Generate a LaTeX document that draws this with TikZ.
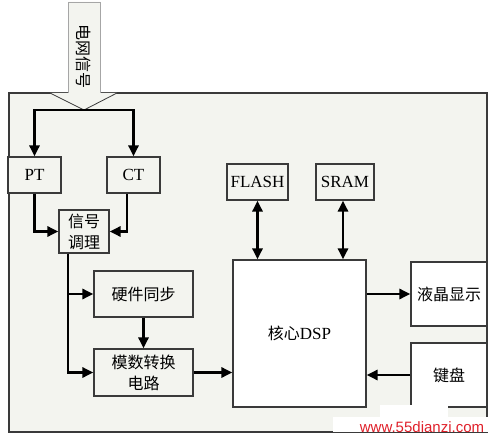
\documentclass[tikz,border=0pt]{standalone}
\usepackage{fontspec}
\setmainfont{Liberation Serif}
\newfontfamily\cjk{Noto Sans CJK SC}
\newfontfamily\wmfont{Liberation Sans}
\usetikzlibrary{arrows.meta}
\definecolor{bgc}{HTML}{F3F4EF}
\definecolor{edge}{HTML}{3A3A3A}
\definecolor{wmred}{HTML}{E0202A}
\begin{document}
\begin{tikzpicture}[x=1pt,y=-1pt,
  box/.style={draw=edge,line width=1.2pt,fill=bgc,inner sep=0pt,font=\fontsize{17}{20}\selectfont},
  cbox/.style={box,font=\cjk\fontsize{16}{22}\selectfont,align=center},
  wbox/.style={box,fill=white},
  conn/.style={line width=2.8pt,-{Triangle[length=11pt,width=10pt]}},
  dconn/.style={line width=2.8pt,{Triangle[length=11pt,width=10pt]}-{Triangle[length=11pt,width=10pt]}}]
\useasboundingbox (0,0) rectangle (490,441);
\fill[white] (0,0) rectangle (490,441);
% frame
\fill[bgc] (9,93) rectangle (487,432);
\draw[edge,line width=1.2pt] (68,93) -- (9,93) -- (9,432) -- (487,432) -- (487,93) -- (100,93);
% big input arrow
\fill[bgc] (68,2) -- (100,2) -- (100,93) -- (117,93) -- (84,110) -- (50,93) -- (68,93) -- cycle;
\draw[gray!70,line width=0.8pt] (68,93) -- (68,2) -- (100,2) -- (100,93);
\draw[edge,line width=0.8pt] (50,93) -- (84,110) -- (117,93);
\coordinate (tip) at (84,110);
\node[rotate=-90,font=\cjk\fontsize{16}{18}\selectfont,inner sep=0pt] (grid) at (84,57) {电网信号};
% boxes
\node[box,minimum width=53pt,minimum height=36pt] (PT) at (34.5,175) {PT};
\node[box,minimum width=53pt,minimum height=36pt] (CT) at (133.5,175) {CT};
\node[cbox,minimum width=50pt,minimum height=43pt,font=\cjk\fontsize{16}{21}\selectfont] (tiao) at (84,231.5) {信号\\调理};
\node[cbox,minimum width=99pt,minimum height=46pt] (hw) at (143.5,294) {硬件同步};
\node[cbox,minimum width=99pt,minimum height=47pt,font=\cjk\fontsize{16}{21}\selectfont] (adc) at (143.5,372.5) {模数转换\\电路};
\node[wbox,minimum width=133pt,minimum height=147pt] (dsp) at (299.5,333.5) {{\cjk\fontsize{16}{20}\selectfont 核心}DSP};
\node[box,minimum width=61pt,minimum height=36pt] (flash) at (257.5,182) {FLASH};
\node[box,minimum width=58pt,minimum height=36pt] (sram) at (345,182) {SRAM};
\node[cbox,fill=white,minimum width=76pt,minimum height=64pt] (lcd) at (449,294) {液晶显示};
\node[cbox,fill=white,minimum width=76pt,minimum height=64pt] (key) at (449,375) {键盘};
% connectors
\draw[conn] (tip) -| (PT.north);
\draw[conn] (tip) -| (CT.north);
\draw[conn] (PT.south) |- (tiao.west);
\draw[conn] ([xshift=-6.5pt]CT.south) |- (tiao.east);
\coordinate (tb) at ([xshift=-16pt]tiao.south);
\draw[conn] (tb) |- (hw.west);
\draw[conn] (tb) |- (adc.west);
\draw[conn] (hw.south) -- (adc.north);
\draw[conn] (adc.east) -- (adc.east -| dsp.west);
\draw[dconn] (flash.south) -- (flash.south |- dsp.north);
\draw[dconn] ([xshift=-2pt]sram.south) -- ([xshift=-2pt]sram.south |- dsp.north);
\draw[conn] (lcd.west -| dsp.east) -- (lcd.west);
\draw[conn] (key.west) -- (key.west -| dsp.east);
% watermark
\fill[white] (333,417) rectangle (488,432);
\fill[white] (380,405) rectangle (448,417);
\node[font=\wmfont\fontsize{15}{15}\selectfont,text=wmred,inner sep=0pt] (wm) at (422,427) {www.55dianzi.com};
\end{tikzpicture}
\end{document}
